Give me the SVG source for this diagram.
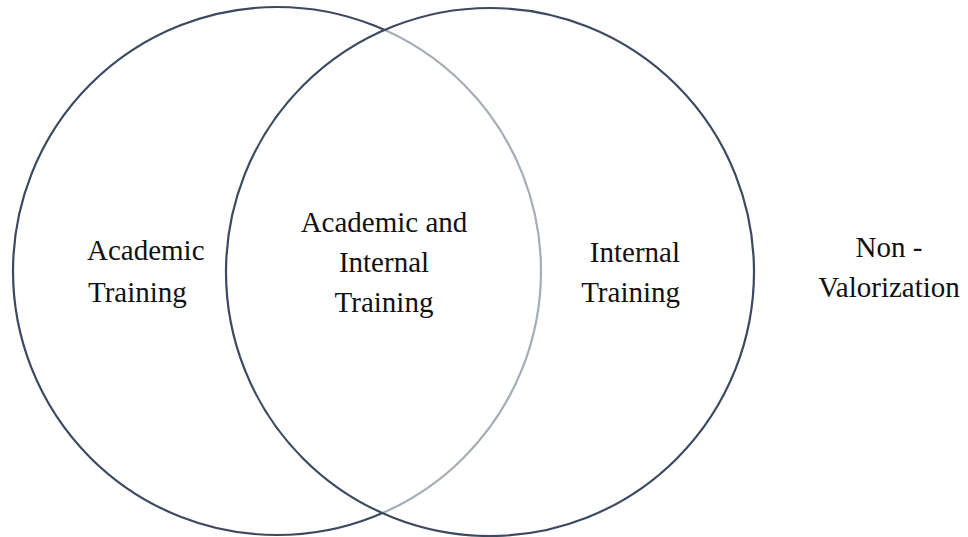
<svg xmlns="http://www.w3.org/2000/svg" width="968" height="537" viewBox="0 0 968 537">
<style>
.circ{stroke:#3b4a60;stroke-width:2.2}
.lbl{font-family:"Liberation Serif","Times New Roman",serif;font-size:29px;fill:#111}
</style>
<rect width="968" height="537" fill="#ffffff"/>
<g id="academic-circle">
<circle class="circ" cx="277" cy="271" r="264" fill="none"/>
</g>
<g id="internal-circle">
<circle class="circ" cx="490" cy="272" r="264" fill="#ffffff" fill-opacity="0.55"/>
</g>
<g id="academic-label">
<text class="lbl" x="87" y="260">Academic</text>
<text class="lbl" x="88" y="302">Training</text>
</g>
<g id="overlap-label">
<text class="lbl" x="384" y="232" text-anchor="middle">Academic and</text>
<text class="lbl" x="384" y="272" text-anchor="middle">Internal</text>
<text class="lbl" x="384" y="312" text-anchor="middle">Training</text>
</g>
<g id="internal-label">
<text class="lbl" x="680" y="262" text-anchor="end">Internal</text>
<text class="lbl" x="680" y="302" text-anchor="end">Training</text>
</g>
<g id="non-valorization-label">
<text class="lbl" x="889" y="257" text-anchor="middle">Non -</text>
<text class="lbl" x="889" y="297" text-anchor="middle">Valorization</text>
</g>
<g id="connectors"></g>
</svg>
